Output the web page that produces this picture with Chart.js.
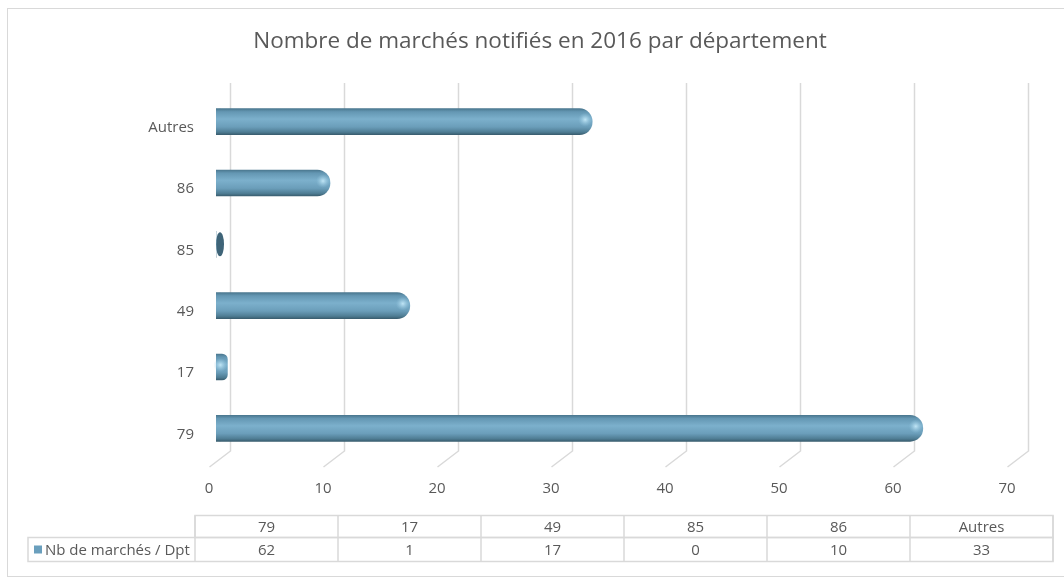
<!DOCTYPE html>
<html>
<head>
<meta charset="utf-8">
<script src="https://cdn.jsdelivr.net/npm/chart.js@4"></script>
<style>
  html, body { margin: 0; padding: 0; background: #fff; }
  #wrap { width: 1064px; height: 579px; position: relative; }
</style>
</head>
<body>
<div id="wrap"><canvas id="chart"></canvas></div>
<script>
// chart data
const categories = ['79', '17', '49', '85', '86', 'Autres'];
const values = [62, 1, 17, 0, 10, 33];
const seriesName = 'Nb de marchés / Dpt';
const titleText = 'Nombre de marchés notifiés en 2016 par département';
const xMin = 0, xMax = 70, xStep = 10;

const textColor = '#595959';
const gridColor = '#d9d9d9';
const font = '"Open Sans", "Noto Sans", sans-serif';

// 3D look: back plane offset of the grid
const depthX = 14, depthSlantX = 21, depthSlantY = 16;
const barH = 26;

function barGradient(ctx, yc) {
  const g = ctx.createLinearGradient(0, yc - barH / 2, 0, yc + barH / 2);
  g.addColorStop(0, '#4b7890');
  g.addColorStop(0.12, '#6497b3');
  g.addColorStop(0.4, '#7cb0cc');
  g.addColorStop(0.7, '#6b9eba');
  g.addColorStop(0.9, '#4f7d94');
  g.addColorStop(1, '#3a5e70');
  return g;
}

const decor = {
  id: 'decor',
  beforeDraw(chart) {
    const ctx = chart.ctx;
    ctx.save();
    ctx.strokeStyle = gridColor;
    ctx.lineWidth = 1;
    ctx.strokeRect(7.5, 8.5, 1100, 568);
    // slanted 3D grid
    const xs = chart.scales.x;
    const area = chart.chartArea;
    ctx.lineWidth = 1.5;
    for (let v = xMin; v <= xMax; v += xStep) {
      const px = Math.round(xs.getPixelForValue(v)) + depthX + 0.5;
      ctx.beginPath();
      ctx.moveTo(px, area.top - 8);
      ctx.lineTo(px, area.bottom - 8);
      ctx.lineTo(px - depthSlantX, area.bottom - 8 + depthSlantY);
      ctx.stroke();
    }
    ctx.restore();
  },
  beforeDatasetsDraw(chart) {
    const ctx = chart.ctx;
    const meta = chart.getDatasetMeta(0);
    ctx.save();
    meta.data.forEach((bar, i) => {
      ctx.beginPath();
      if (values[i] === 0) {
        ctx.fillStyle = '#3f6478';
        ctx.ellipse(bar.base + 4, bar.y, 4, barH / 2 - 1, 0, 0, Math.PI * 2);
      } else {
        ctx.fillStyle = barGradient(ctx, bar.y);
        ctx.ellipse(bar.base + 4, bar.y, 4, barH / 2, 0, 0, Math.PI * 2);
      }
      ctx.fill();
    });
    ctx.restore();
  },
  afterDatasetsDraw(chart) {
    const ctx = chart.ctx;
    const meta = chart.getDatasetMeta(0);
    ctx.save();
    meta.data.forEach((bar, i) => {
      if (values[i] <= 0) return;
      const hx = bar.x - 7, hy = bar.y - 2;
      const g = ctx.createRadialGradient(hx, hy, 0, hx, hy, 7);
      g.addColorStop(0, 'rgba(200,235,250,0.9)');
      g.addColorStop(1, 'rgba(150,200,225,0)');
      ctx.fillStyle = g;
      ctx.beginPath();
      ctx.arc(hx, hy, 7, 0, Math.PI * 2);
      ctx.fill();
    });
    ctx.restore();
  },
  afterDraw(chart) {
    // data table under the chart
    const ctx = chart.ctx;
    const left = 28, labelW = 167, right = 1053;
    const top = 515.5, rowH = 22, row2H = 24;
    const colW = (right - left - labelW) / categories.length;
    ctx.save();
    ctx.strokeStyle = gridColor;
    ctx.lineWidth = 1.5;
    ctx.strokeRect(left + labelW, top, right - left - labelW, rowH);
    ctx.strokeRect(left, top + rowH, right - left, row2H);
    for (let i = 0; i <= categories.length; i++) {
      const x = left + labelW + i * colW;
      ctx.beginPath();
      ctx.moveTo(x, top);
      ctx.lineTo(x, top + rowH + row2H);
      ctx.stroke();
    }
    ctx.fillStyle = textColor;
    ctx.font = '15px ' + font;
    ctx.textAlign = 'center';
    ctx.textBaseline = 'middle';
    categories.forEach((c, i) => {
      const cx = left + labelW + (i + 0.5) * colW;
      ctx.fillText(c, cx, top + rowH / 2 + 1);
      ctx.fillText(String(values[i]), cx, top + rowH + row2H / 2 + 1);
    });
    ctx.fillStyle = '#6a9fbd';
    ctx.fillRect(left + 6, top + rowH + row2H / 2 - 4, 8, 8);
    ctx.fillStyle = textColor;
    ctx.textAlign = 'left';
    ctx.fillText(seriesName, left + 17, top + rowH + row2H / 2 + 1);
    ctx.restore();
  }
};

new Chart(document.getElementById('chart'), {
  type: 'bar',
  data: {
    labels: categories,
    datasets: [{
      label: seriesName,
      data: values,
      yAxisID: 'y',
      barThickness: barH,
      backgroundColor: (c) => {
        const ch = c.chart;
        if (!ch.chartArea || c.dataIndex === undefined) return '#6a9fbd';
        return barGradient(ch.ctx, ch.scales.y.getPixelForValue(c.dataIndex));
      },
      borderWidth: 0,
      borderRadius: { topRight: 13, bottomRight: 13 },
      borderSkipped: 'start'
    }]
  },
  plugins: [decor],
  options: {
    indexAxis: 'y',
    responsive: true,
    maintainAspectRatio: false,
    animation: false,
    layout: { padding: { left: 16, right: 0, top: 28, bottom: 68 } },
    plugins: {
      legend: { display: false },
      tooltip: { enabled: false },
      title: {
        display: true,
        text: titleText,
        color: textColor,
        font: { family: font, size: 22.5, weight: 'normal', lineHeight: 1.2 },
        padding: { top: 0, bottom: 36 },
        position: 'top',
        fullSize: true
      }
    },
    scales: {
      x: {
        min: xMin,
        max: xMax,
        grid: { display: false, drawTicks: false },
        border: { display: false },
        ticks: {
          stepSize: xStep,
          color: textColor,
          font: { family: font, size: 15 },
          padding: 21,
          labelOffset: -7
        },
        afterFit: (s) => { s.height = 52; }
      },
      y: {
        reverse: true,
        grid: { display: false, drawTicks: false },
        border: { display: false },
        ticks: {
          color: textColor,
          font: { family: font, size: 15 },
          padding: 22,
          labelOffset: 6
        },
        afterFit: (s) => { s.width = 200; }
      },
      // empty right-hand margin so the title centres on the whole frame
      y2: {
        type: 'category',
        position: 'right',
        grid: { display: false, drawTicks: false },
        border: { display: false },
        ticks: { display: false },
        afterFit: (s) => { s.width = 50; }
      }
    }
  }
});
</script>
</body>
</html>
